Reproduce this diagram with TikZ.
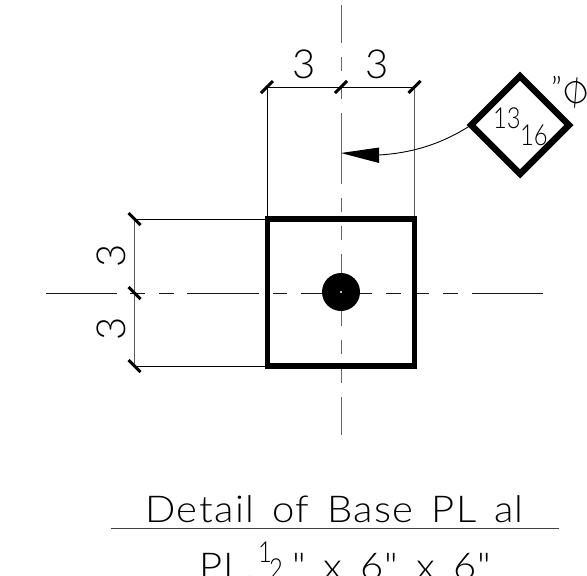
\documentclass[tikz,border=0pt]{standalone}
\usepackage{fontspec}
\setmainfont{Lato Light}
\newfontfamily\wide{Lato Light}[FakeStretch=1.08,LetterSpace=4,WordSpace=1.45]
\newfontfamily\narrow{Lato Light}[FakeStretch=0.82]
\tikzset{
 dim/.style={line width=1pt,black},
 dimgrey/.style={line width=1pt,black!65},
 tick/.style={line width=3pt,black},
 cl/.style={line width=1pt,black!60},
 clh/.style={line width=1pt,black!90},
 plate/.style={draw,line width=5.5pt,black,inner sep=0pt,outer sep=0pt,minimum width=147pt,minimum height=147pt},
 bubble/.style={draw,diamond,aspect=1,line width=6.5pt,black,inner sep=0pt,outer sep=0pt,minimum size=97.8pt,miter limit=10},
 dimtxt/.style={inner sep=0pt,font=\fontsize{40}{40}\selectfont},
 small/.style={inner sep=0pt,anchor=base west,font=\fontsize{29}{29}\narrow},
 title/.style={inner sep=0pt,anchor=base west,font=\fontsize{37}{37}\wide}
}
\usetikzlibrary{shapes.geometric}
\begin{document}
\begin{tikzpicture}[x=1pt,y=-1pt]
\useasboundingbox (0,0) rectangle (587,576);
\clip (0,0) rectangle (587,576);
% reference points
\coordinate (dl) at (267,87);
\coordinate (dm) at (341,87);
\coordinate (dr) at (414.5,87);
\coordinate (pl) at (267,219);
\coordinate (pr) at (414.5,219);
\coordinate (lt) at (134.5,219);
\coordinate (lm) at (134.5,293);
\coordinate (lb) at (134.5,366);
\coordinate (pbl) at (267,366);
% centre lines
\draw[cl] (341,5)--(341,43) (341,57)--(341,71) (341,85)--(341,99) (341,113)--(341,184) (341,198)--(341,212)
 (341,226)--(341,240) (341,254)--(341,326) (341,340)--(341,354) (341,368)--(341,383) (341,397)--(341,435);
\draw[clh] (46,293)--(117,293) (130,293)--(145,293) (159,293)--(174,293) (187,293)--(259,293)
 (273,293)--(287,293) (301,293)--(372,293) (386,293)--(401,293) (415,293)--(429,293) (443,293)--(458,293) (472,293)--(543,293);
% dimension lines
\draw[dim] (dl)--(dr) (dl)--(pl) (lt)--(pl) (lb)--(pbl);
\draw[dimgrey] (dr)--(pr) (lt)--(lb);
\foreach \p in {dl,dm,dr}{\draw[tick] ([xshift=-6pt,yshift=-6pt]\p)--([xshift=6pt,yshift=6pt]\p);}
\foreach \p in {lt,lm,lb}{\draw[tick] ([xshift=-6pt,yshift=6pt]\p)--([xshift=6pt,yshift=-6pt]\p);}
% plate and hole
\node[plate] (plate) at (340.75,292.5) {};
\node[circle,fill=black,inner sep=0pt,outer sep=0pt,minimum size=38pt] (hole) at (341,292) {};
\fill[white] (hole.center) circle (1.2pt);
% dimension texts
\node[dimtxt] (t3a) at (304,64) {3};
\node[dimtxt] (t3b) at (377,64) {3};
\node[dimtxt,rotate=90] (t3c) at (111,256) {3};
\node[dimtxt,rotate=90] (t3d) at (111,329) {3};
% bubble
\node[bubble] (dia) at (520,125) {};
\node[small] (n13) at (493,128) {13};
\node[small] (n16) at (520,145) {16};
\node[small,font=\fontsize{32}{32}\selectfont] (q) at (551,100) {"};
\node[inner sep=0pt,rotate=32,font=\fontsize{31}{31}\selectfont] (phi) at (576,93) {Ø};
% leader
\coordinate (tip) at (341,153);
\coordinate (ab) at (379,155);
\fill[black] (tip)--(379,147.5)--(379,163)--cycle;
\draw[line width=0.9pt,black] (ab) .. controls (412,153) and (442,144) .. (dia.west);
% titles
\node[title] (title) at (145,522) {Detail of Base PL al};
\draw[line width=1pt,black!75] (111,528)--(559,528);
\node[title] (pltxt) at (199,579) {PL.};
\node[small] (one) at (258,562) {1};
\node[small] (two) at (269,579) {2};
\node[title] (rest) at (292,579) {" x 6" x 6"};
\end{tikzpicture}
\end{document}
